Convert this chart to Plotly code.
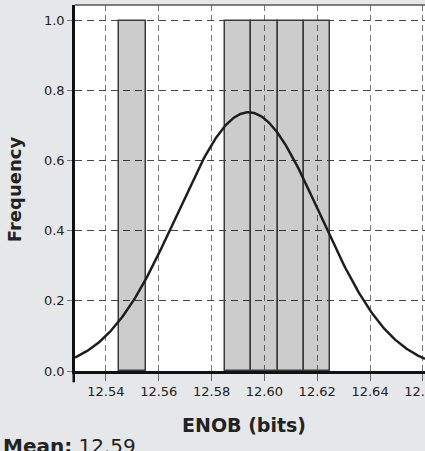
import numpy as np
import plotly.graph_objects as go

# Histogram of ENOB measurements (bin centres, bin width 0.01 bits)
bin_centers = [12.55, 12.59, 12.60, 12.61, 12.62]
frequencies = [1.0, 1.0, 1.0, 1.0, 1.0]
bin_width = 0.01

x_ticks = [12.54, 12.56, 12.58, 12.60, 12.62, 12.64, 12.66]
y_ticks = [0.0, 0.2, 0.4, 0.6, 0.8, 1.0]

X_RANGE = [12.5283, 12.6608]

# Normal fit to the measurements, scaled to the histogram
samples = np.repeat(bin_centers, np.array(frequencies).astype(int))
mu = samples.mean()
sigma = samples.std(ddof=1)
x_fit = np.linspace(X_RANGE[0], X_RANGE[1], 300)
y_fit = len(samples) * bin_width * np.exp(-0.5 * ((x_fit - mu) / sigma) ** 2) / (sigma * np.sqrt(2 * np.pi))

TEXT = "#222222"
FONT = "DejaVu Sans"

fig = go.Figure()
fig.add_trace(go.Bar(
    x=bin_centers, y=frequencies, width=bin_width,
    marker=dict(color="rgba(0,0,0,0.2)", line=dict(color="#3a3a3a", width=1.5)),
    hoverinfo="skip", showlegend=False,
))
fig.add_trace(go.Scatter(
    x=x_fit, y=y_fit, mode="lines",
    line=dict(color="#1e1e1e", width=2.5),
    hoverinfo="skip", showlegend=False,
))

fig.update_layout(
    width=425, height=451,
    margin=dict(l=75, r=0, t=5, b=80),
    paper_bgcolor="#e6e7e9",
    plot_bgcolor="#ffffff",
    font=dict(family=FONT, color=TEXT, size=13),
    bargap=0,
    xaxis=dict(
        range=X_RANGE,
        tickvals=x_ticks, ticktext=[f"{v:.2f}" for v in x_ticks],
        ticks="outside", ticklen=7, tickcolor="#666666", tickwidth=1.2,
        showline=True, linecolor="#111111", linewidth=2.5,
        showgrid=True, gridcolor="#777777", gridwidth=1, griddash="6px,4px",
        zeroline=False, automargin=False, ticklabeloverflow="allow",
        tickfont=dict(size=13, color=TEXT),
    ),
    yaxis=dict(
        range=[0, 1.0445],
        tickvals=y_ticks, ticktext=[f"{v:.1f}" for v in y_ticks],
        ticks="outside", ticklen=5, tickcolor="#777777", tickwidth=1,
        showline=True, linecolor="#111111", linewidth=2.5,
        showgrid=True, gridcolor="#444444", gridwidth=1, griddash="7px,5px",
        zeroline=False, automargin=False,
        tickfont=dict(size=13, color=TEXT),
    ),
    shapes=[
        # frame line along the top of the plot area
        dict(type="line", xref="paper", yref="paper", x0=0, x1=1, y0=1, y1=1,
             line=dict(color="#555555", width=1.5)),
        # y axis line continued below the x axis
        dict(type="line", xref="paper", yref="paper", x0=-0.0036, x1=-0.0036, y0=-0.031, y1=0,
             line=dict(color="#111111", width=2.5)),
    ],
    annotations=[
        dict(text="<b>ENOB (bits)</b>", xref="paper", yref="paper",
             x=0.484, y=-0.112, xanchor="center", yanchor="top", showarrow=False,
             font=dict(family=FONT, size=19, color=TEXT)),
        dict(text="<b>Frequency</b>", xref="paper", yref="paper",
             x=-0.174, y=0.497, xanchor="center", yanchor="middle", textangle=-90,
             showarrow=False, font=dict(family=FONT, size=18, color=TEXT)),
        dict(text=f"<b>Mean:</b> {mu:.2f}", xref="paper", yref="paper",
             x=-0.2115, y=-0.166, xanchor="left", yanchor="top", showarrow=False,
             font=dict(family=FONT, size=20, color=TEXT)),
    ],
)

fig.write_html("out.html")
